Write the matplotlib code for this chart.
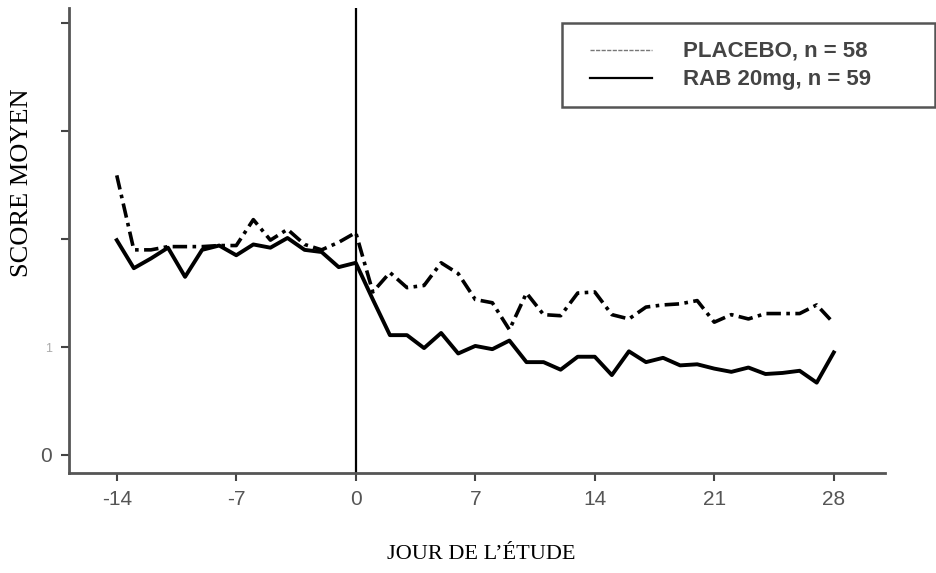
import matplotlib.pyplot as plt
from matplotlib.lines import Line2D
from matplotlib.patches import Rectangle

# jours de l'étude et scores moyens par groupe
jours = list(range(-14, 29))
placebo = [2.59, 1.90, 1.90, 1.93, 1.93, 1.93, 1.94, 1.94, 2.18, 1.99, 2.09, 1.95, 1.90, 1.97, 2.06,
           1.51, 1.69, 1.55, 1.57, 1.78, 1.68, 1.44, 1.41, 1.16, 1.50, 1.30, 1.29, 1.50, 1.51,
           1.30, 1.26, 1.37, 1.39, 1.40, 1.43, 1.23, 1.30, 1.26, 1.31, 1.31, 1.31, 1.39, 1.22]
rab = [1.99, 1.73, 1.82, 1.92, 1.65, 1.90, 1.94, 1.85, 1.95, 1.92, 2.01, 1.90, 1.88, 1.74, 1.78,
       1.44, 1.11, 1.11, 0.99, 1.13, 0.94, 1.01, 0.98, 1.06, 0.86, 0.86, 0.79, 0.91, 0.91,
       0.74, 0.96, 0.86, 0.90, 0.83, 0.84, 0.80, 0.77, 0.81, 0.75, 0.76, 0.78, 0.67, 0.95]

xticks = [-14, -7, 0, 7, 14, 21, 28]
yticks = [0, 1, 2, 3, 4]
ytick_labels = ['0', '1', '', '', '']
legend_labels = ['PLACEBO, n = 58', 'RAB 20mg, n = 59']

fig = plt.figure(figsize=(9.37, 5.73), dpi=100)
ax = fig.add_axes([0.0736, 0.1745, 0.8709, 0.8115])

ax.plot(jours, placebo, color='black', lw=2.6, dashes=(4, 1.5, 1, 1.5))
ax.plot(jours, rab, color='black', lw=2.8, solid_joinstyle='round')
ax.axvline(0, color='black', lw=1.6)

ax.set_xlim(-16.8, 31.0)
ax.set_ylim(-0.167, 4.14)
ax.set_xticks(xticks)
ax.set_xticklabels([str(t) for t in xticks])
ax.set_yticks(yticks)
ax.set_yticklabels(ytick_labels)

for s in ['top', 'right']:
    ax.spines[s].set_visible(False)
for s in ['left', 'bottom']:
    ax.spines[s].set_color('#555555')
    ax.spines[s].set_linewidth(2)

ax.tick_params(axis='both', direction='out', length=6, width=1.5, color='#444444',
               labelcolor='#555555', labelsize=15, pad=6)
ax.get_yticklabels()[1].set_color('#aaaaaa')
ax.get_yticklabels()[1].set_fontsize(9)
for lab in ax.get_xticklabels() + ax.get_yticklabels():
    lab.set_family('Liberation Sans')

ax.set_xlabel("JOUR DE L\u2019\u00c9TUDE", family='Liberation Serif', fontsize=16)
ax.set_ylabel('SCORE MOYEN', family='Liberation Serif', fontsize=19)
ax.xaxis.set_label_coords(0.505, -0.155)
ax.yaxis.set_label_coords(-0.044, 0.624)

# légende dessinée à la main
W, H = 937, 573
fig.patches.append(Rectangle((562 / W, 1 - 107 / H), 373 / W, 84 / H, transform=fig.transFigure,
                             fill=False, edgecolor='#555555', lw=1.8))
fig.lines.append(Line2D([590 / W, 652 / W], [1 - 50 / H, 1 - 50 / H], transform=fig.transFigure,
                        color='#777777', lw=1, dashes=(3, 1)))
fig.lines.append(Line2D([590 / W, 652 / W], [1 - 78 / H, 1 - 78 / H], transform=fig.transFigure,
                        color='black', lw=1.6))
fig.text(683 / W, 1 - 51 / H, legend_labels[0], family='Liberation Sans', fontsize=16,
         weight='bold', color='#444444', va='center')
fig.text(683 / W, 1 - 79 / H, legend_labels[1], family='Liberation Sans', fontsize=16,
         weight='bold', color='#444444', va='center')

fig.savefig('out.png', dpi=100)
